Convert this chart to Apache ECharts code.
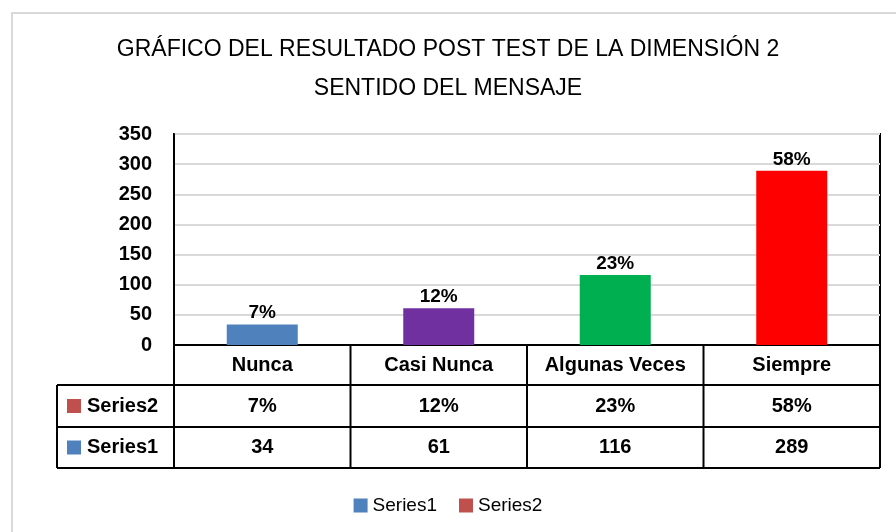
<!DOCTYPE html>
<html>
<head>
<meta charset="utf-8">
<script src="https://cdn.jsdelivr.net/npm/echarts@6/dist/echarts.min.js"></script>
<style>
  html, body { margin: 0; padding: 0; background: #fff; }
  #chart { width: 896px; height: 532px; }
</style>
</head>
<body>
<div id="chart"></div>
<script>
// data
const categories = ['Nunca', 'Casi Nunca', 'Algunas Veces', 'Siempre']
const series1Values = [34, 61, 116, 289]
const series2Labels = ['7%', '12%', '23%', '58%']
const yTicks = [0, 50, 100, 150, 200, 250, 300, 350]

const barColors = ['#4F81BD', '#7030A0', '#00B050', '#FF0000']
const s1Color = '#4F81BD'
const s2Color = '#C0504D'
const FONT = '"Liberation Sans", Arial, sans-serif'

const chart = echarts.init(document.getElementById('chart'))

const grid = { left: 174, right: 16, top: 134, bottom: 187 }

chart.setOption({
  animation: false,
  title: {
    text: 'GRÁFICO DEL RESULTADO POST TEST DE LA DIMENSIÓN 2\nSENTIDO DEL MENSAJE',
    left: 'center',
    top: 25,
    textStyle: {
      fontFamily: FONT,
      fontWeight: 'normal',
      fontSize: 23,
      lineHeight: 39,
      color: '#000'
    }
  },
  legend: {
    bottom: 12,
    left: 'center',
    itemWidth: 14,
    itemHeight: 14,
    itemGap: 22,
    icon: 'rect',
    textStyle: { fontFamily: FONT, fontSize: 19, color: '#000' },
    data: ['Series1', 'Series2']
  },
  grid: Object.assign({ show: true, borderColor: '#000', borderWidth: 2 }, grid),
  xAxis: {
    type: 'category',
    data: categories,
    axisLabel: { show: false },
    axisTick: { show: false },
    axisLine: { lineStyle: { color: '#000', width: 2 } }
  },
  yAxis: {
    type: 'value',
    min: yTicks[0],
    max: yTicks[yTicks.length - 1],
    interval: yTicks[1] - yTicks[0],
    axisLine: { show: true, lineStyle: { color: '#000', width: 2 } },
    axisTick: { show: false },
    splitLine: { lineStyle: { color: '#d9d9d9', width: 2 } },
    axisLabel: {
      margin: 22,
      fontFamily: FONT,
      fontWeight: 'bold',
      fontSize: 20,
      color: '#000'
    }
  },
  series: [
    {
      name: 'Series1',
      type: 'bar',
      barWidth: 71,
      barGap: '-100%',
      itemStyle: { color: s1Color },
      data: series1Values.map((v, i) => ({ value: v, itemStyle: { color: barColors[i] } })),
      label: {
        show: true,
        position: 'top',
        distance: 2,
        fontFamily: FONT,
        fontWeight: 'bold',
        fontSize: 19,
        color: '#000',
        formatter: p => series2Labels[p.dataIndex]
      }
    },
    {
      name: 'Series2',
      type: 'bar',
      barWidth: 71,
      barGap: '-100%',
      itemStyle: { color: s2Color },
      data: []
    }
  ]
})

// data table under the plot
function drawTable() {
  const plotLeft = grid.left
  const plotRight = 896 - grid.right
  const y0 = chart.convertToPixel({ yAxisIndex: 0 }, 0)
  const rowH = [40, 42, 41]
  const rows = [y0]
  rowH.forEach(h => rows.push(rows[rows.length - 1] + h))
  const labelLeft = 57

  const centers = categories.map((c, i) => chart.convertToPixel({ xAxisIndex: 0 }, i))
  const edges = [plotLeft]
  for (let i = 0; i < centers.length - 1; i++) edges.push((centers[i] + centers[i + 1]) / 2)
  edges.push(plotRight)

  const lineStyle = { stroke: '#000', lineWidth: 2 }
  const els = []
  const line = (x1, y1, x2, y2) => els.push({ type: 'line', silent: true, shape: { x1, y1, x2, y2 }, style: lineStyle })
  const txt = (text, x, y, align) => els.push({
    type: 'text', silent: true, x, y,
    style: { text, fill: '#000', font: 'bold 20px ' + FONT, align: align || 'center', verticalAlign: 'middle' }
  })

  // horizontal lines
  line(plotLeft, rows[1], plotRight, rows[1])
  line(labelLeft, rows[1], plotLeft, rows[1])
  line(labelLeft, rows[2], plotRight, rows[2])
  line(labelLeft, rows[3], plotRight, rows[3])
  // vertical lines
  edges.forEach(x => line(x, rows[0], x, rows[3]))
  line(labelLeft, rows[1], labelLeft, rows[3])

  const mid = r => (rows[r] + rows[r + 1]) / 2
  categories.forEach((c, i) => {
    txt(c, centers[i], mid(0))
    txt(series2Labels[i], centers[i], mid(1))
    txt(String(series1Values[i]), centers[i], mid(2))
  })

  // row headers with legend keys
  const keys = [['Series2', s2Color], ['Series1', s1Color]]
  keys.forEach((k, j) => {
    const cy = mid(j + 1)
    els.push({ type: 'rect', silent: true, shape: { x: 67, y: cy - 7, width: 14, height: 14 }, style: { fill: k[1] } })
    txt(k[0], 87, cy, 'left')
  })

  // outer chart frame
  els.push({ type: 'rect', silent: true, z: -1, shape: { x: 12, y: 13, width: 900, height: 540 }, style: { fill: null, stroke: '#d9d9d9', lineWidth: 2 } })

  chart.setOption({ graphic: els })
}
drawTable()
</script>
</body>
</html>
